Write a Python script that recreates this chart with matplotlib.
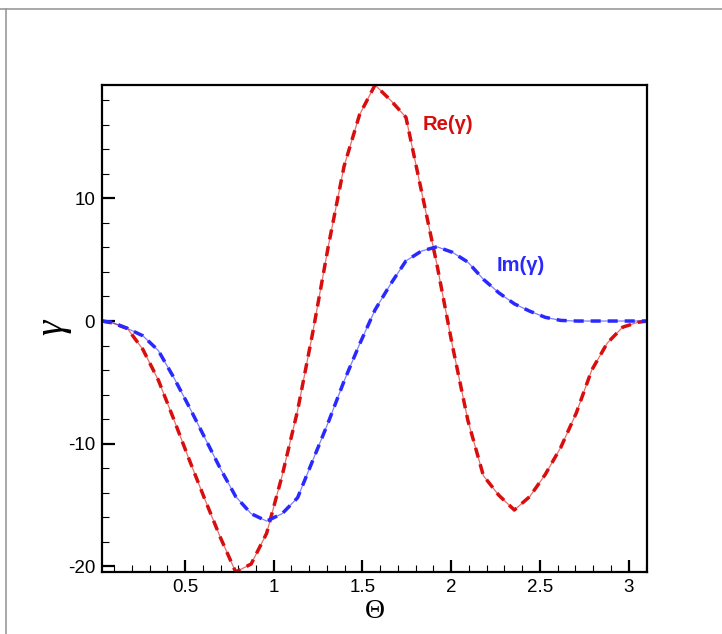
import matplotlib
matplotlib.use("Agg")
import matplotlib.pyplot as plt
from matplotlib.lines import Line2D
from matplotlib.ticker import MultipleLocator

plt.rcParams['font.family'] = ['Liberation Sans', 'DejaVu Sans']
plt.rcParams['axes.unicode_minus'] = False

# Theta sample points
theta = [0.0314, 0.0873, 0.1745, 0.2618, 0.3491, 0.4363, 0.5236, 0.6109, 0.6981,
         0.7854, 0.8727, 0.9599, 1.0472, 1.1345, 1.2217, 1.3090, 1.3963, 1.4835,
         1.5708, 1.6581, 1.7453, 1.8326, 1.9199, 2.0071, 2.0944, 2.1817, 2.2689,
         2.3562, 2.4435, 2.5307, 2.6180, 2.7053, 2.7925, 2.8798, 2.9671, 3.0543,
         3.1100]

# Re(gamma)
re_g = [0.0, -0.15, -0.6, -2.3, -4.8, -8.0, -11.3, -14.5, -17.6,
        -20.45, -19.8, -17.3, -12.6, -7.3, -0.8, 6.2, 12.6, 16.8,
        19.23, 18.0, 16.6, 10.6, 4.6, -2.0, -8.1, -12.6, -14.2,
        -15.4, -14.3, -12.5, -10.3, -7.5, -4.0, -1.8, -0.5, -0.1,
        0.0]

# Im(gamma)
im_g = [0.0, -0.1, -0.6, -1.2, -2.4, -4.6, -7.0, -9.5, -12.0,
        -14.3, -15.7, -16.3, -15.7, -14.4, -11.3, -8.2, -4.9, -1.9,
        0.9, 3.0, 4.9, 5.7, 6.05, 5.6, 4.8, 3.4, 2.3,
        1.4, 0.8, 0.3, 0.05, 0.0, 0.0, 0.0, 0.0, 0.0,
        0.0]

red = '#d80d0d'
blue = '#2828ff'

fig = plt.figure(figsize=(7.22, 6.34), dpi=100)
ax = fig.add_axes([0.1413, 0.0978, 0.7548, 0.7681])

# thin solid line under thick dashes, like the original
ax.plot(theta, re_g, color=red, lw=0.9, alpha=0.6)
ax.plot(theta, re_g, color=red, lw=2.5, dashes=(2.9, 2.0))
ax.plot(theta, im_g, color=blue, lw=0.9, alpha=0.6)
ax.plot(theta, im_g, color=blue, lw=2.5, dashes=(2.9, 2.0))

ax.text(1.837, 16.05, 'Re(γ)', color=red, fontsize=14.5, fontweight='bold',
        va='center', ha='left')
ax.text(2.258, 4.5, 'Im(γ)', color=blue, fontsize=14.5, fontweight='bold',
        va='center', ha='left')

ax.set_xlim(0.032, 3.104)
ax.set_ylim(-20.45, 19.23)

ax.xaxis.set_major_locator(MultipleLocator(0.5))
ax.xaxis.set_minor_locator(MultipleLocator(0.1))
ax.yaxis.set_major_locator(MultipleLocator(10))
ax.yaxis.set_minor_locator(MultipleLocator(2))

ax.tick_params(which='both', direction='in', top=False, right=False,
               labelsize=13.5)
ax.tick_params(which='major', length=9, width=1.6, pad=5)
ax.tick_params(which='minor', length=5, width=0.8)

ax.xaxis.set_major_formatter(plt.FuncFormatter(lambda v, p: ('%g' % v)))
ax.yaxis.set_major_formatter(plt.FuncFormatter(lambda v, p: ('%g' % v)))

for s in ax.spines.values():
    s.set_linewidth(1.6)
    s.set_color('black')

# axis titles
fig.text(0.519, 0.035, 'Θ', fontsize=20, family='Liberation Serif',
         ha='center', va='center')
fig.text(0.0734, 0.4834, 'γ', fontsize=28, family='Liberation Serif',
         style='italic', rotation=90, ha='center', va='center')

# grey screenshot border at top and left
fig.add_artist(Line2D([0, 1], [0.986, 0.986], color='#999999', lw=1.2))
fig.add_artist(Line2D([0.009, 0.009], [0, 0.986], color='#999999', lw=1.2))

fig.savefig('out.png', dpi=100)
